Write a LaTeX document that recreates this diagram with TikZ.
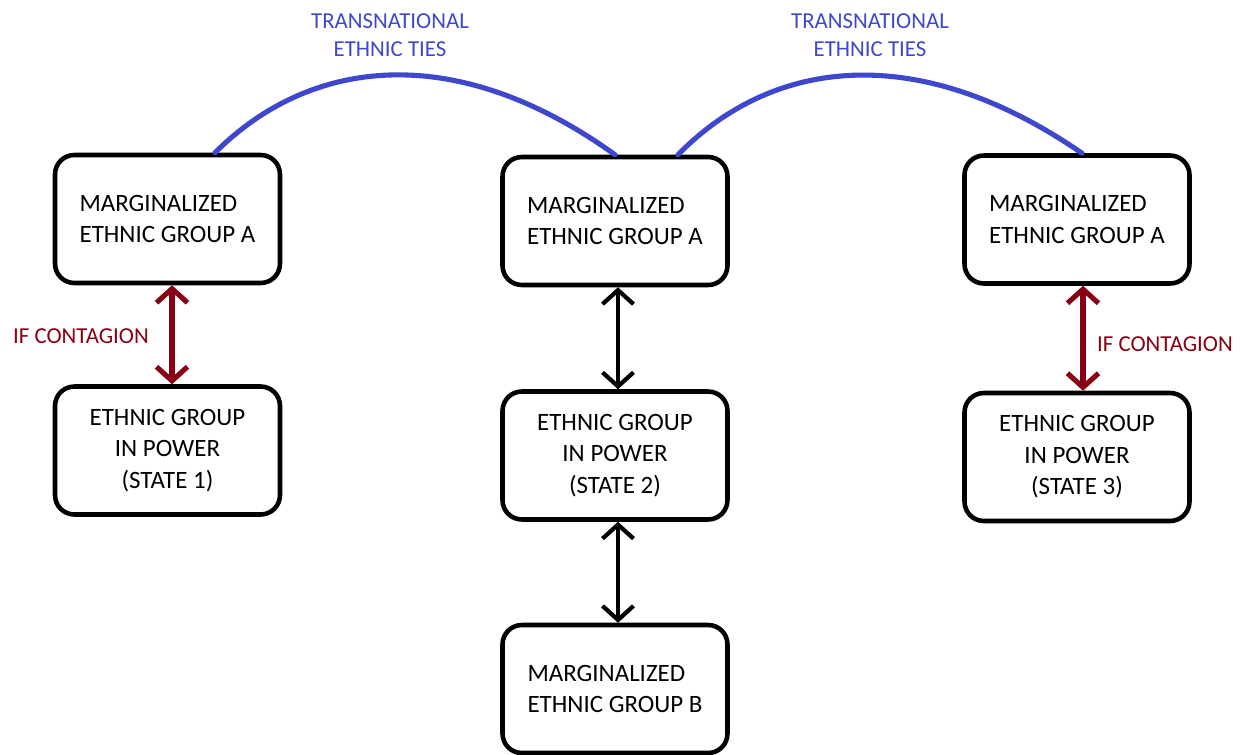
\documentclass[tikz,border=0pt]{standalone}
\usepackage{fontspec}
\setmainfont{Carlito}
\usetikzlibrary{arrows.meta}

\definecolor{tieblue}{RGB}{63,72,204}
\definecolor{contred}{RGB}{136,0,21}

\tikzset{
  groupbox/.style={draw, line width=2.6pt, rounded corners=11pt,
    minimum width=4.5cm, minimum height=2.56cm,
    font=\fontsize{14.2}{18}\selectfont},
  contagion/.style={contred, line width=2.9pt, {Straight Barb[length=0.28cm,width=0.62cm]}-{Straight Barb[length=0.28cm,width=0.62cm]}},
  link/.style={black, line width=2.4pt, {Straight Barb[length=0.28cm,width=0.62cm]}-{Straight Barb[length=0.28cm,width=0.62cm]}},
  tie/.style={tieblue, line width=2.9pt, line cap=round},
  tielabel/.style={tieblue, align=center, font=\fontsize{13}{16}\selectfont},
  contlabel/.style={contred, font=\fontsize{13}{16}\selectfont}
}

\begin{document}
\begin{tikzpicture}[x=0.02cm, y=-0.02cm]
        
        \useasboundingbox (0,0) rectangle (1251,754);
        
        % state 1
        \node[groupbox, align=left] (topL) at (167.5,219) {MARGINALIZED\\ETHNIC GROUP A};
        \node[groupbox, align=center] (botL) at (167.5,450.5) {ETHNIC GROUP\\IN POWER\\(STATE 1)};
        
        % state 2
        \node[groupbox, align=left] (topM) at (615,221) {MARGINALIZED\\ETHNIC GROUP A};
        \node[groupbox, align=center] (midM) at (615,455.5) {ETHNIC GROUP\\IN POWER\\(STATE 2)};
        \node[groupbox, align=left] (botM) at (615,689) {MARGINALIZED\\ETHNIC GROUP B};
        
        % state 3
        \node[groupbox, align=left] (topR) at (1077,219.5) {MARGINALIZED\\ETHNIC GROUP A};
        \node[groupbox, align=center] (botR) at (1077,457) {ETHNIC GROUP\\IN POWER\\(STATE 3)};
        
        \draw[contagion] ([xshift=0.09cm]topL.south) -- ([xshift=0.09cm]botL.north);
        \draw[link] ([xshift=0.06cm]topM.south) -- ([xshift=0.06cm]midM.north);
        \draw[link] ([xshift=0.06cm]midM.south) -- ([xshift=0.06cm]botM.north);
        \draw[contagion] ([xshift=0.12cm]topR.south) -- ([xshift=0.12cm]botR.north);
        
        \node[contlabel] (ifL) at (81,336) {IF CONTAGION};
        \node[contlabel] (ifR) at (1165,344) {IF CONTAGION};
        
        % ties across borders
        \draw[tie] ([xshift=0.95cm]topL.north) .. controls +(95,-95) and +(-160,-115) .. (topM.north);
        \draw[tie] ([xshift=1.26cm]topM.north) .. controls +(95,-97) and +(-164,-113) .. ([xshift=0.1cm]topR.north);
        
        \node[tielabel] (tiesL) at (390,35) {TRANSNATIONAL\\ETHNIC TIES};
        \node[tielabel] (tiesR) at (870,35) {TRANSNATIONAL\\ETHNIC TIES};
        
        \end{tikzpicture}
\end{document}
